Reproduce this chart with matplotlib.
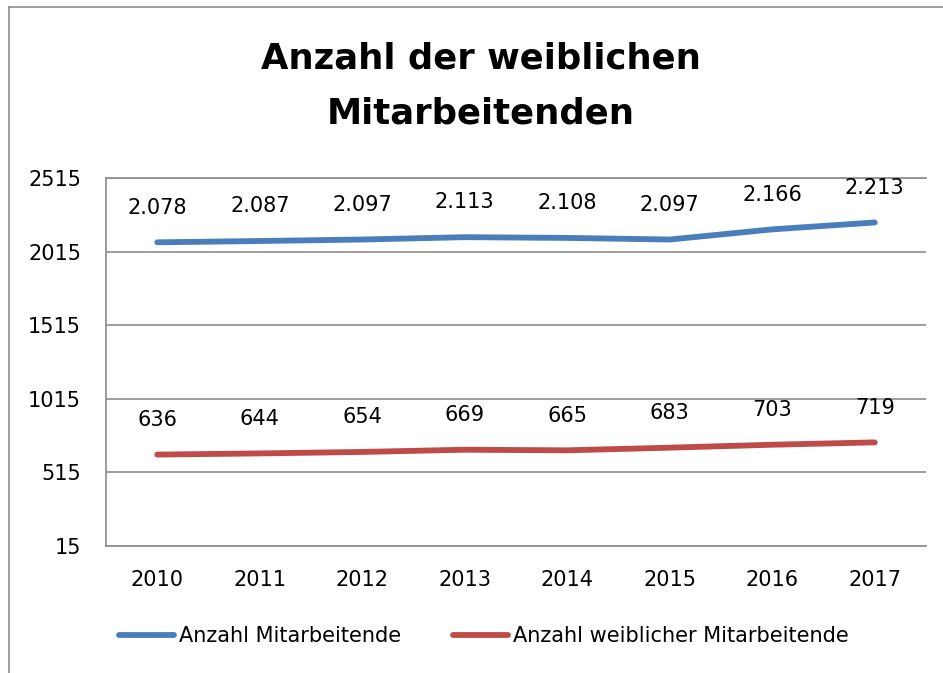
import matplotlib
matplotlib.use("Agg")
import matplotlib.pyplot as plt
from matplotlib.lines import Line2D

plt.rcParams['font.family'] = ['DejaVu Sans']

years = ["2010", "2011", "2012", "2013", "2014", "2015", "2016", "2017"]
total = [2078, 2087, 2097, 2113, 2108, 2097, 2166, 2213]
female = [636, 644, 654, 669, 665, 683, 703, 719]
yticks = [15, 515, 1015, 1515, 2015, 2515]
title = "Anzahl der weiblichen\nMitarbeitenden"
series_names = ["Anzahl Mitarbeitende", "Anzahl weiblicher Mitarbeitende"]
colors = ["#4A7EBB", "#BE4B48"]

FS = 15
W, H = 943, 673
fig = plt.figure(figsize=(W / 100, H / 100), dpi=100)
ax = fig.add_axes([106 / W, (H - 546) / H, (926 - 106) / W, (546 - 178) / H])

x = list(range(len(years)))
for vals, c, name in zip([total, female], colors, series_names):
    ax.plot(x, vals, color=c, lw=4.2, solid_capstyle='round', label=name)
    for xi, v in zip(x, vals):
        lab = f"{v:,}".replace(",", ".")
        ax.annotate(lab, (xi, v), xytext=(0, 25), textcoords='offset points',
                    ha='center', va='center', fontsize=FS, color='black')

ax.set_xlim(-0.5, len(years) - 0.5)
ax.set_ylim(15, 2515)
ax.set_yticks(yticks)
ax.set_yticklabels([str(t) for t in yticks], fontsize=FS)
ax.set_xticks(x)
ax.set_xticklabels(years, fontsize=FS)
ax.tick_params(axis='both', length=0)
ax.tick_params(axis='y', pad=18)
ax.tick_params(axis='x', pad=17)
ax.grid(axis='y', color='#8C8C8C', lw=1.2)
ax.set_axisbelow(True)
ax.spines['right'].set_visible(False)
for s in ['top', 'left', 'bottom']:
    ax.spines[s].set_color('#8C8C8C')
    ax.spines[s].set_linewidth(1.2)

fig.text(481 / W, 1 - 86 / H, title, ha='center', va='center', fontsize=25.5,
         fontweight='bold', linespacing=1.75)

handles = [Line2D([], [], color=c, lw=4.2, solid_capstyle='round') for c in colors]
fig.legend(handles, series_names, loc='center', bbox_to_anchor=(484 / W, 1 - 636 / H),
           ncol=2, frameon=False, fontsize=FS, handlelength=2.65, handletextpad=0.24,
           columnspacing=2.5)

# outer frame (left and top)
fig.add_artist(Line2D([9 / W, 9 / W], [0, 1 - 7 / H], color='#8C8C8C', lw=1.2,
                      transform=fig.transFigure))
fig.add_artist(Line2D([9 / W, 1], [1 - 7 / H, 1 - 7 / H], color='#8C8C8C', lw=1.2,
                      transform=fig.transFigure))

fig.savefig("out.png", dpi=100)
